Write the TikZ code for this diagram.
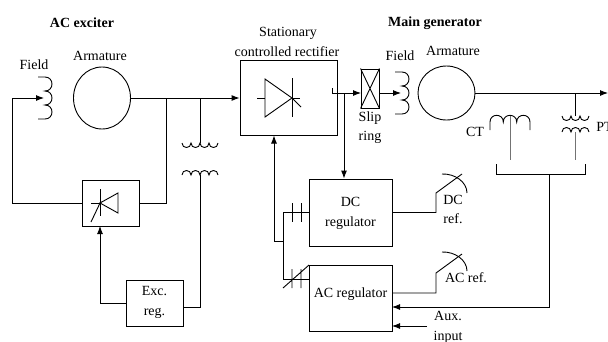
\documentclass[tikz,border=0pt]{standalone}
\usepackage{fontspec}
\setmainfont{Liberation Serif}
\usetikzlibrary{arrows.meta,shapes.geometric}
\begin{document}
\begin{tikzpicture}[x=1pt,y=-1pt, line width=0.9pt,
  every node/.style={font=\fontsize{14}{20}\selectfont, inner sep=0pt, text height=9.5pt, text depth=2.5pt},
  blk/.style={draw, rectangle, inner sep=0pt, text height=, text depth=},
  circ/.style={draw, ellipse, inner sep=0pt, text height=, text depth=},
  arr/.style={-{Latex[length=8pt,width=6pt]}},
  ttl/.style={font=\fontsize{14}{20}\selectfont\bfseries},
  grayline/.style={draw=black!55}]
\useasboundingbox (0,0) rectangle (608,341);

% ---------- titles and labels ----------
\node[ttl] (tacx) at (82,24) {AC exciter};
\node (tf1) at (34,66) {Field};
\node (ta1) at (100,57) {Armature};
\node[ttl] (tmg) at (435,23) {Main generator};
\node (tf2) at (400,57) {Field};
\node (ta2) at (453,52) {Armature};
\node (tstat) at (288,33) {Stationary};
\node (tctrl) at (287,53) {controlled rectifier};
\node (tsl) at (370,118) {Slip};
\node (tri) at (370,137) {ring};
\node (tct) at (475,133) {CT};
\node[anchor=west] (tpt) at (596,128) {PT};
\node (tdr1) at (453,201) {DC};
\node (tdr2) at (453,220) {ref.};
\node (tar) at (466,279) {AC ref.};
\node (taux1) at (448,317) {Aux.};
\node (taux2) at (448,337) {input};

% ---------- boxes ----------
\node[blk, minimum width=57, minimum height=46] (dbox) at (110.5,203) {};
\node[blk, minimum width=57, minimum height=46] (exc) at (154.5,303) {};
\node (te1) at (154.5,292) {Exc.};
\node (te2) at (154.5,312) {reg.};
\node[blk, minimum width=97, minimum height=75] (rect) at (288.5,98) {};
\node[blk, minimum width=18, minimum height=39] (slip) at (370,88.5) {};
\draw (slip.north west) -- (slip.south east) (slip.north east) -- (slip.south west);
\node[blk, minimum width=83, minimum height=67] (dc) at (350.5,212.5) {};
\node (tdc1) at (350.5,203) {DC};
\node (tdc2) at (350.5,223) {regulator};
\node[blk, minimum width=83, minimum height=66] (ac) at (350.5,298) {};
\node (tac) at (350.5,294) {AC regulator};

% ---------- machines ----------
\node[circ, minimum width=57, minimum height=62] (arm1) at (102,98) {};
\node[circ, minimum width=57, minimum height=54] (arm2) at (446.5,93) {};

% exciter field coil
\draw (38,77) -- (45,77)
  .. controls (54.3,77) and (54.3,91) .. (45,91)
  .. controls (54.3,91) and (54.3,105) .. (45,105)
  .. controls (54.3,105) and (54.3,119) .. (45,119) -- (38,119);
% main field coil
\draw (395,72) -- (402,72)
  .. controls (411.3,72) and (411.3,86) .. (402,86)
  .. controls (411.3,86) and (411.3,100) .. (402,100)
  .. controls (411.3,100) and (411.3,114) .. (402,114) -- (395,114);

% ---------- diodes ----------
\draw (100,189) -- (100,216);
\draw (100,203) -- (118,193) -- (118,213) -- cycle;
\draw (91,203) -- (100,203);
\draw (91,222) -- (101,201);

\draw (265,79) -- (292,98) -- (265,117) -- cycle;
\draw (292,78) -- (292,117);
\draw (257,98) -- (265,98);
\draw (292,98) -- (300,98);
\draw (292,98) -- (301,107);

% ---------- exciter transformer ----------
\coordinate (tt) at (200,143);
\coordinate (tb) at (200,175);
\draw (182,143) .. controls (182,149) and (191,149) .. (191,143)
  .. controls (191,149) and (200,149) .. (200,143)
  .. controls (200,149) and (209,149) .. (209,143)
  .. controls (209,149) and (218,149) .. (218,143);
\draw (182,175) .. controls (182,169) and (191,169) .. (191,175)
  .. controls (191,169) and (200,169) .. (200,175)
  .. controls (200,169) and (209,169) .. (209,175)
  .. controls (209,169) and (218,169) .. (218,175);

% ---------- exciter connections ----------
\coordinate (fc1) at (44,98);
\coordinate (j1) at (166,98);
\coordinate (j2) at (200,98);
\coordinate (dbin) at (100,226);
\coordinate (excout) at (183,307);
\draw[arr] (arm1.east) -- (rect.west);
\draw (j1) -- (j1 |- dbox.east) -- (dbox.east);
\draw[arr] (dbox.west) -- (12,203) -- (12,98) -- (fc1);
\draw (j2) -- (tt);
\draw (excout) -- (200,307) -- (tb);
\draw[arr] (exc.west) -- (100,303) -- (dbin);

% ---------- rectifier output ----------
\coordinate (ro) at (332,88);
\coordinate (slin) at (361,93);
\coordinate (slout) at (379,93);
\coordinate (fc2) at (401,93);
\coordinate (j3) at (344,93);
\draw[arr] (ro) -- (332,93) -- (slin);
\draw[arr] (slout) -- (fc2);
\draw[arr] (j3) -- (j3 |- dc.north);

% ---------- main output, CT, PT ----------
\coordinate (outend) at (608,93);
\coordinate (jp) at (575.5,93);
\draw[arr] (arm2.east) -- (outend);
\draw (jp) -- (575.5,116);
\draw (562,116) .. controls (562,122) and (571,122) .. (571,116)
  .. controls (571,122) and (580,122) .. (580,116)
  .. controls (580,122) and (589,122) .. (589,116);
\draw (562,132) .. controls (562,126) and (571,126) .. (571,132)
  .. controls (571,126) and (580,126) .. (580,132)
  .. controls (580,126) and (589,126) .. (589,132);
\draw[grayline] (575.5,132) -- (575.5,160);
\draw (490,130) -- (490,122)
  .. controls (490,113.1) and (503.3,113.1) .. (503.3,122)
  .. controls (503.3,113.1) and (516.7,113.1) .. (516.7,122)
  .. controls (516.7,113.1) and (530,113.1) .. (530,122) -- (530,130);
\draw[grayline] (510,115.5) -- (510,160);
\coordinate (jb) at (549,174);
\coordinate (acin1) at (392,307);
\coordinate (auxs) at (427,326);
\coordinate (acin2) at (392,326);
\draw (496,164) -- (496,174) -- (585,174) -- (585,164);
\draw[arr] (jb) -- (549,307) -- (acin1);
\draw[arr] (auxs) -- (acin2);

% ---------- regulator references ----------
\draw (dc.east) -- (436,212.5) -- (436,193) -- (462,174);
\draw (442,174) .. controls (455,173.5) and (467,182) .. (467,193);
\coordinate (acout) at (392,293);
\draw (acout) -- (436,293) -- (436,273) -- (462,254);
\draw (442,252) .. controls (455,251.5) and (467,260) .. (467,271);

% ---------- feedback to rectifier ----------
\coordinate (rin) at (274,135.5);
\coordinate (fb) at (274,241);
\coordinate (fj) at (283,241);
\coordinate (acfb) at (309,279);
\draw[arr] (fj) -- (fb) -- (rin);
\draw (dc.west) -- (283,212.5) -- (283,279) -- (acfb);
\draw (292,203) -- (292,222) (301,203) -- (301,222);
\draw (292,269) -- (292,288) (301,269) -- (301,288) (283,288) -- (309,265);
\end{tikzpicture}
\end{document}
